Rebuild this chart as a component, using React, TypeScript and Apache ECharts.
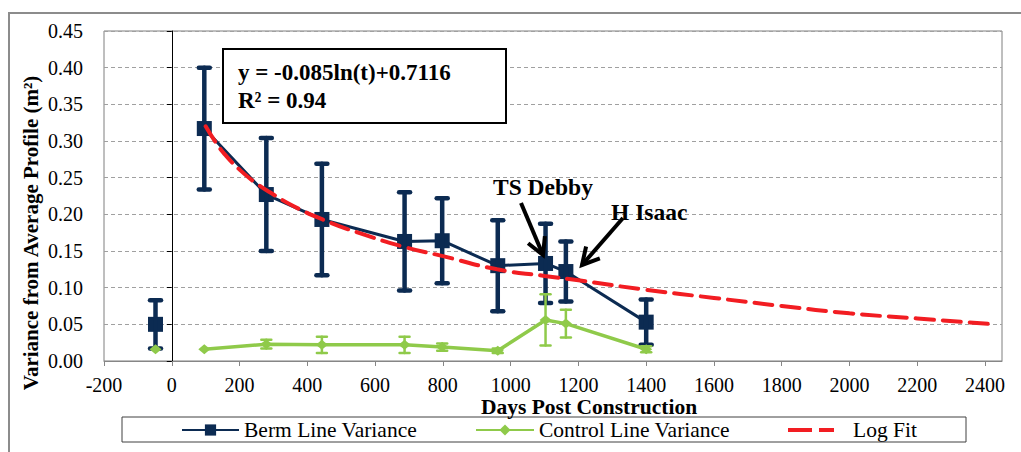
import React, { useEffect, useRef } from "react";
import * as echarts from "echarts";

// ---------- data ----------
const xTickValues = [-200, 0, 200, 400, 600, 800, 1000, 1200, 1400, 1600, 1800, 2000, 2200, 2400];
const bermDays = [-48, 96, 279, 443, 687, 798, 962, 1103, 1163, 1400];
const bermVariance = [0.05, 0.317, 0.227, 0.193, 0.163, 0.164, 0.13, 0.133, 0.122, 0.053];
const bermError = [0.033, 0.083, 0.077, 0.076, 0.067, 0.058, 0.062, 0.054, 0.041, 0.031];
const controlVariance = [0.016, 0.016, 0.023, 0.022, 0.022, 0.019, 0.014, 0.056, 0.051, 0.016];
const controlError = [0, 0, 0.006, 0.011, 0.011, 0.005, 0.003, 0.035, 0.019, 0.004];
const fitDays = [100, 130, 160, 200, 250, 300, 360, 445, 550, 690, 800, 960, 1100, 1200, 1400, 1600, 1800, 2000, 2200, 2430];
const fitValues = [0.32, 0.298, 0.28, 0.261, 0.242, 0.227, 0.211, 0.193, 0.175, 0.155, 0.143, 0.125, 0.116, 0.11, 0.097, 0.086, 0.075, 0.065, 0.058, 0.05];

const seriesNames = ["Berm Line Variance", "Control Line Variance", "Log Fit"];
const equationLines = ["y = -0.085ln(t)+0.7116", "R² = 0.94"];
const eventLabels = ["TS Debby", "H Isaac"];

const NAVY = "#0c2b52";
const GREEN = "#8fca4a";
const RED = "#f21d22";
const SERIF = "Liberation Serif";

function withBreak(days: number[], vals: number[]) {
  const pts: any[] = days.map((d, i) => [d, vals[i]]);
  pts.splice(1, 0, [0, "-"]);
  return pts;
}

function errorSeries(name: string, days: number[], vals: number[], errs: number[], color: string, lw: number, capW: number, z: number) {
  return {
    type: "custom",
    name,
    z,
    silent: true,
    data: days
      .map((d, i) => [d, vals[i] - errs[i], vals[i] + errs[i], errs[i]])
      .filter((e) => e[3] > 0),
    encode: { x: 0, y: [1, 2] },
    renderItem: (_params: any, api: any) => {
      const lo = api.coord([api.value(0), api.value(1)]);
      const hi = api.coord([api.value(0), api.value(2)]);
      const h = capW / 2;
      const style = { stroke: color, lineWidth: lw, lineCap: "round" };
      return {
        type: "group",
        children: [
          { type: "line", shape: { x1: lo[0], y1: lo[1], x2: hi[0], y2: hi[1] }, style },
          { type: "line", shape: { x1: lo[0] - h, y1: lo[1], x2: lo[0] + h, y2: lo[1] }, style },
          { type: "line", shape: { x1: hi[0] - h, y1: hi[1], x2: hi[0] + h, y2: hi[1] }, style },
        ],
      };
    },
  };
}

function arrow(x1: number, y1: number, x2: number, y2: number) {
  const ang = Math.atan2(y2 - y1, x2 - x1);
  const L = 19;
  const a = 0.5;
  const p1 = [x2 - L * Math.cos(ang - a), y2 - L * Math.sin(ang - a)];
  const p2 = [x2 - L * Math.cos(ang + a), y2 - L * Math.sin(ang + a)];
  return [
    { type: "line", shape: { x1, y1, x2, y2 }, style: { stroke: "#000", lineWidth: 4 }, z: 20 },
    { type: "polyline", shape: { points: [p1, [x2, y2], p2] }, style: { stroke: "#000", fill: null, lineWidth: 4 }, z: 20 },
  ];
}

export default function App() {
  const ref = useRef<HTMLDivElement>(null);

  useEffect(() => {
    if (!ref.current) return;
    const chart = echarts.init(ref.current, null, { renderer: "svg" });

    const legendBase = {
      top: 419,
      padding: 0,
      itemHeight: 14,
      textStyle: { color: "#000", fontFamily: SERIF, fontSize: 21.5 },
      selectedMode: false,
    };

    const option: any = {
      animation: false,
      backgroundColor: "#fff",
      textStyle: { fontFamily: SERIF },
      grid: {
        left: 104,
        top: 31,
        right: 19,
        bottom: 91,
        show: true,
        borderColor: "#7f7f7f",
        borderWidth: 1,
        backgroundColor: "transparent",
        containLabel: false,
        outerBoundsMode: "none",
      },
      xAxis: {
        type: "value",
        min: -200,
        max: 2450,
        interval: 200,
        axisLine: { show: true, onZero: false, lineStyle: { color: "#868686", width: 1 } },
        axisTick: { show: true, length: 5, lineStyle: { color: "#868686" }, customValues: xTickValues },
        axisLabel: {
          customValues: xTickValues,
          color: "#000",
          fontFamily: SERIF,
          fontSize: 20,
          margin: 14,
          formatter: (v: number) => String(v),
        },
        splitLine: { show: false },
      },
      yAxis: [
        {
          type: "value",
          min: 0,
          max: 0.45,
          interval: 0.05,
          position: "left",
          axisLine: { show: false, onZero: false },
          axisTick: { show: false },
          axisLabel: {
            color: "#000",
            fontFamily: SERIF,
            fontSize: 20,
            margin: 21,
            formatter: (v: number) => v.toFixed(2),
          },
          splitLine: { show: true, lineStyle: { color: "#a0a0a0", type: [4, 3], width: 1 } },
        },
        {
          type: "value",
          min: 0,
          max: 0.45,
          interval: 0.05,
          position: "left",
          axisLine: { show: true, onZero: true, onZeroAxisIndex: 0, lineStyle: { color: "#000", width: 1 } },
          axisTick: { show: true, length: 5, lineStyle: { color: "#000" } },
          axisLabel: { show: false },
          splitLine: { show: false },
        },
      ],
      legend: [
        { ...legendBase, left: 181, itemWidth: 57, data: [seriesNames[0]] },
        { ...legendBase, left: 475, itemWidth: 58, data: [seriesNames[1]] },
        {
          ...legendBase,
          left: 788,
          itemWidth: 46,
          itemHeight: 4,
          data: [{ name: seriesNames[2], icon: "path://M0,0h24v4h-24zM31,0h15v4h-15z" }],
          textStyle: { ...legendBase.textStyle, padding: [0, 0, 0, 14] },
        },
      ],
      series: [
        {
          type: "line",
          name: seriesNames[0],
          data: withBreak(bermDays, bermVariance),
          z: 3,
          color: NAVY,
          lineStyle: { color: NAVY, width: 3 },
          itemStyle: { color: NAVY },
          symbol: "rect",
          symbolSize: 15,
          showSymbol: true,
          connectNulls: false,
        },
        errorSeries("Berm Error", bermDays, bermVariance, bermError, NAVY, 4.5, 11, 4),
        {
          type: "line",
          name: seriesNames[1],
          data: withBreak(bermDays, controlVariance),
          z: 5,
          color: GREEN,
          lineStyle: { color: GREEN, width: 3.5 },
          itemStyle: { color: GREEN },
          symbol: "diamond",
          symbolSize: [12, 10],
          showSymbol: true,
          connectNulls: false,
        },
        errorSeries("Control Error", bermDays, controlVariance, controlError, GREEN, 2.5, 10, 6),
        {
          type: "line",
          name: seriesNames[2],
          data: fitDays.map((d, i) => [d, fitValues[i]]),
          z: 7,
          color: RED,
          smooth: true,
          showSymbol: false,
          symbol: "none",
          lineStyle: { color: RED, width: 4, type: [18, 9], cap: "round" },
        },
      ],
      graphic: [
        {
          type: "rect",
          shape: { x: 9, y: 13, width: 1200, height: 600 },
          style: { stroke: "#8c8c8c", lineWidth: 2, fill: null },
          z: 0,
          silent: true,
        },
        {
          type: "rect",
          shape: { x: 122, y: 417, width: 844, height: 25 },
          style: { stroke: "#404040", lineWidth: 1, fill: null },
          z: 10,
          silent: true,
        },
        {
          type: "rect",
          shape: { x: 223, y: 49, width: 283, height: 74 },
          style: { stroke: "#000", lineWidth: 2, fill: "#fff" },
          z: 15,
          silent: true,
        },
        {
          type: "text",
          x: 238,
          y: 72,
          z: 16,
          style: { text: equationLines[0], fontFamily: SERIF, fontWeight: "bold", fontSize: 23, fill: "#000", verticalAlign: "middle" },
        },
        {
          type: "text",
          x: 238,
          y: 100,
          z: 16,
          style: { text: equationLines[1], fontFamily: SERIF, fontWeight: "bold", fontSize: 23, fill: "#000", verticalAlign: "middle" },
        },
        {
          type: "text",
          x: 493,
          y: 187,
          z: 16,
          style: { text: eventLabels[0], fontFamily: SERIF, fontWeight: "bold", fontSize: 23.5, fill: "#000", verticalAlign: "middle" },
        },
        {
          type: "text",
          x: 611,
          y: 212,
          z: 16,
          style: { text: eventLabels[1], fontFamily: SERIF, fontWeight: "bold", fontSize: 23.5, fill: "#000", verticalAlign: "middle" },
        },
        ...arrow(521, 203, 543, 255),
        ...arrow(623, 218, 582, 265),
        {
          type: "text",
          x: 589,
          y: 407,
          z: 16,
          style: { text: "Days Post Construction", fontFamily: SERIF, fontWeight: "bold", fontSize: 21.5, fill: "#000", align: "center", verticalAlign: "middle" },
        },
        {
          type: "text",
          x: 31,
          y: 233,
          rotation: Math.PI / 2,
          z: 16,
          style: { text: "Variance from Average Profile (m²)", fontFamily: SERIF, fontWeight: "bold", fontSize: 21, fill: "#000", align: "center", verticalAlign: "middle" },
        },
      ],
    };

    chart.setOption(option);
    return () => chart.dispose();
  }, []);

  return <div ref={ref} style={{ position: "fixed", left: 0, top: 0, width: 1021, height: 452 }} />;
}
